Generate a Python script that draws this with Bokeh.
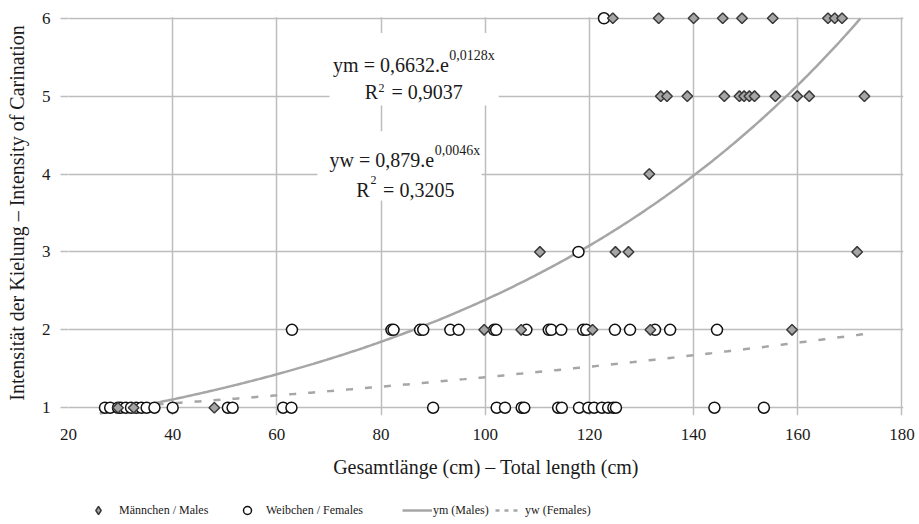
import math
from bokeh.plotting import figure
from bokeh.layouts import column
from bokeh.models import Legend, LegendItem, Label, BoxAnnotation, FixedTicker
from bokeh.embed import file_html
from bokeh.resources import INLINE

# ---- data ----
males_x = [124.5, 133.3, 140.0, 145.6, 149.3, 155.2, 165.8, 167.1, 168.5,
           133.7, 134.9, 138.8, 145.9, 148.8, 149.7, 150.7, 151.7, 155.7, 159.9, 162.2, 172.8,
           131.5,
           110.5, 125.0, 127.5, 171.4,
           99.8, 106.9, 120.6, 131.7, 158.9,
           29.5, 32.5, 48.0]
males_y = [6, 6, 6, 6, 6, 6, 6, 6, 6,
           5, 5, 5, 5, 5, 5, 5, 5, 5, 5, 5, 5,
           4,
           3, 3, 3, 3,
           2, 2, 2, 2, 2,
           1, 1, 1]

females_x = [122.8,
             117.9,
             62.9, 82.0, 82.4, 87.5, 88.1, 93.3, 94.9, 101.7, 102.1, 107.9, 112.2, 112.7,
             114.6, 118.8, 119.4, 124.9, 127.8, 132.6, 135.5, 144.5,
             27.0, 28.0, 29.5, 30.0, 31.0, 32.0, 33.0, 34.0, 35.0, 36.5, 40.0, 50.6, 51.5,
             61.2, 62.8, 90.0, 102.2, 103.8, 107.0, 107.5, 114.0, 114.7, 118.0, 119.8,
             120.9, 122.4, 123.6, 124.6, 125.1, 144.0, 153.5]
females_y = [6,
             3,
             2, 2, 2, 2, 2, 2, 2, 2, 2, 2, 2, 2,
             2, 2, 2, 2, 2, 2, 2, 2,
             1, 1, 1, 1, 1, 1, 1, 1, 1, 1, 1, 1, 1,
             1, 1, 1, 1, 1, 1, 1, 1, 1, 1, 1,
             1, 1, 1, 1, 1, 1, 1]

# trend-line equations as printed on the chart
ym_a, ym_b = 0.6632, 0.0128
yw_a, yw_b = 0.879, 0.0046
ym_x = [26 + i * 0.5 for i in range(293)]          # 26 .. 172 (reaches y = 6)
yw_x = [26 + i * 0.5 for i in range(295)]          # 26 .. 173
ym_y = [ym_a * math.exp(ym_b * x) for x in ym_x]
yw_y = [yw_a * math.exp(yw_b * x) for x in yw_x]

x_ticks = [20, 40, 60, 80, 100, 120, 140, 160, 180]
y_ticks = [1, 2, 3, 4, 5, 6]

FONT = "Liberation Serif"
TXT = "#1a1a1a"
GRID = "#bdbdbd"
LINE = "#a6a6a6"

p = figure(width=919, height=492, x_range=(20, 180.3), y_range=(0.9, 6.1),
           output_backend="svg", toolbar_location=None,
           min_border_left=68, min_border_right=16, min_border_top=10,
           min_border_bottom=77)
p.outline_line_color = None

for ax in (p.xaxis, p.yaxis):
    ax.axis_line_color = None
    ax.major_tick_line_color = GRID
    ax.major_tick_line_width = 1.5
    ax.minor_tick_line_color = None
    ax.major_tick_in = 0
    ax.major_label_text_font = FONT
    ax.major_label_text_font_size = "17px"
    ax.major_label_text_color = TXT
    ax.axis_label_text_font = FONT
    ax.axis_label_text_font_size = "20px"
    ax.axis_label_text_font_style = "normal"
    ax.axis_label_text_color = TXT

p.xaxis.ticker = FixedTicker(ticks=x_ticks)
p.yaxis.ticker = FixedTicker(ticks=y_ticks)
p.xaxis.major_tick_out = 0
p.yaxis.major_tick_out = 8
p.xaxis.major_label_standoff = 13
p.yaxis.major_label_standoff = 10
p.xaxis.axis_label = "Gesamtlänge (cm) – Total length (cm)"
p.yaxis.axis_label = "Intensität der Kielung – Intensity of Carination"
p.xaxis.axis_label_standoff = 13
p.yaxis.axis_label_standoff = 11

p.xgrid.grid_line_color = GRID
p.ygrid.grid_line_color = GRID
p.xgrid.grid_line_width = 1.5
p.ygrid.grid_line_width = 1.5

# hide grid overshoot above y = 6
p.add_layout(BoxAnnotation(bottom=6.012, fill_color="white", fill_alpha=1,
                           line_color=None, level="underlay"))
# white boxes behind the equations
p.add_layout(BoxAnnotation(left=70.1, right=102.6, top=5.81, bottom=4.88,
                           fill_color="white", fill_alpha=1, line_color=None,
                           level="underlay"))
p.add_layout(BoxAnnotation(left=67.8, right=99.3, top=4.55, bottom=3.66,
                           fill_color="white", fill_alpha=1, line_color=None,
                           level="underlay"))

p.line(ym_x, ym_y, line_color=LINE, line_width=2.5)
p.line(yw_x, yw_y, line_color=LINE, line_width=2.5, line_dash="7 12")

p.scatter(females_x, females_y, marker="circle", size=11, fill_color="white",
          line_color="#111111", line_width=1.5)
p.scatter(males_x, males_y, marker="square", angle=math.pi / 4, size=7.5,
          fill_color="#a5a5a5", line_color="#3a3a3a", line_width=1.5)

def lab(x, y, text, size, align="left"):
    p.add_layout(Label(x=x, y=y, text=text, text_font=FONT, text_font_size=size,
                       text_color=TXT, text_align=align, text_baseline="alphabetic"))

lab(70.8, 5.396, "ym = 0,6632.e", "20px")
lab(93.1, 5.525, "0,0128x", "14px")
lab(76.85, 5.053, "R", "20px")
lab(79.5, 5.10, "2", "12px")
lab(82.0, 5.053, "= 0,9037", "20px")
lab(70.1, 4.184, "yw = 0,879.e", "20px")
lab(90.3, 4.303, "0,0046x", "14px")
lab(75.25, 3.789, "R", "20px")
lab(78.0, 3.918, "2", "12px")
lab(80.4, 3.789, "= 0,3205", "20px")

# ---- legend strip below the chart ----
p2 = figure(width=919, height=32, x_range=(0, 1), y_range=(0, 1),
            output_backend="svg", toolbar_location=None,
            x_axis_type=None, y_axis_type=None,
            min_border_left=0, min_border_right=0, min_border_top=0,
            min_border_bottom=0)
p2.outline_line_color = None
p2.xgrid.visible = False
p2.ygrid.visible = False

# legend-only renderers, kept outside the visible range of the strip
g_m = p2.scatter([-5], [-5], marker="diamond", size=10, fill_color="#a5a5a5",
                 line_color="#3a3a3a", line_width=1.5)
g_f = p2.scatter([-5], [-5], marker="circle", size=9, fill_color="white",
                 line_color="#111111", line_width=1.5)
g_ym = p2.line([-5, -4], [-5, -4], line_color=LINE, line_width=2.5)
g_yw = p2.line([-5, -4], [-5, -4], line_color=LINE, line_width=2.5, line_dash="4 5")

def leg(item_label, renderer, x, gw, standoff):
    lg = Legend(items=[LegendItem(label=item_label, renderers=[renderer])],
                location=(x, 4), orientation="horizontal",
                glyph_width=gw, glyph_height=20, label_standoff=standoff,
                padding=0, margin=0, spacing=0,
                border_line_color=None, background_fill_alpha=0,
                label_text_font=FONT, label_text_font_size="12px",
                label_text_color=TXT)
    p2.add_layout(lg, "center")

OFF = 68  # strip frame is aligned with the chart frame
leg("Männchen / Males", g_m, 88 - OFF, 20, 11)
leg("Weibchen / Females", g_f, 237 - OFF, 20, 9)
leg("ym (Males)", g_ym, 402 - OFF, 30, 1)
leg("yw (Females)", g_yw, 495 - OFF, 25, 5)

layout = column(p, p2, spacing=0)
open("out.html", "w").write(file_html(layout, INLINE))
